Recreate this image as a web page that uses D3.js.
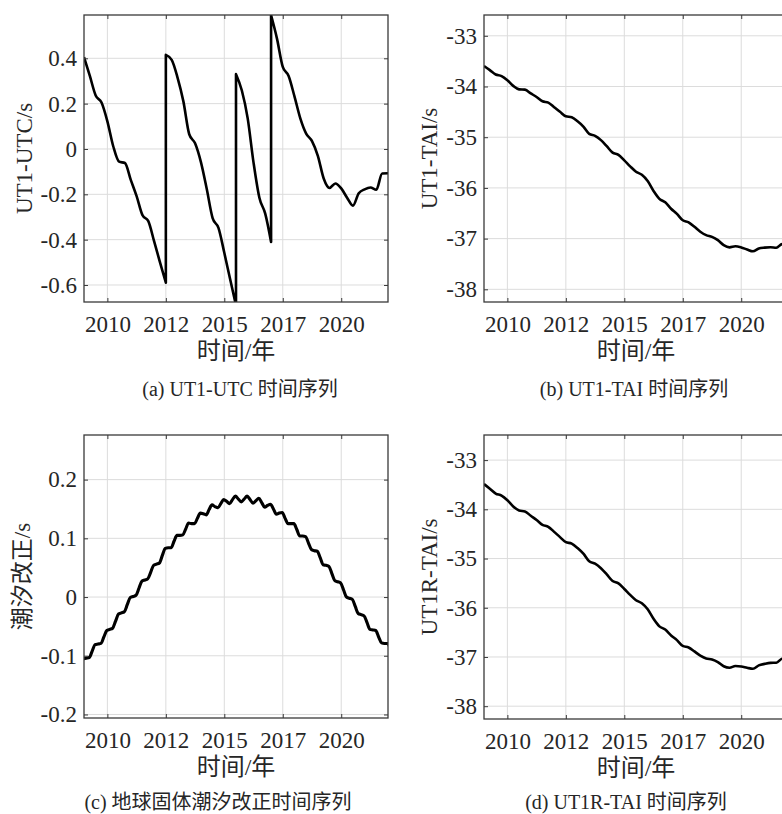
<!DOCTYPE html>
<html lang="zh">
<head>
<meta charset="UTF-8">
<title>UT1 时间序列</title>
<script src="https://d3js.org/d3.v7.min.js"></script>
<style>
  html, body { margin: 0; padding: 0; background: #fff; }
  svg { display: block; }
  text { font-family: "Liberation Serif", "Times New Roman", "Noto Sans CJK SC", serif; fill: #262626; }
  .tick text { font-size: 23px; }
  .grid line { stroke: #dcdcdc; stroke-width: 1px; }
  .frame { fill: none; stroke: #3a3a3a; stroke-width: 1.3px; }
  .axis { color: #3a3a3a; }
  .curve { fill: none; stroke: #000; stroke-width: 2.6px; stroke-linejoin: round; }
  .curve.thick { stroke-width: 3.1px; }
  .xlabel { font-size: 24px; }
  .ylabel { font-size: 23px; }
  .caption { font-size: 20px; }
</style>
</head>
<body>
<svg width="782" height="814"></svg>
<script>
// time axis in decimal years
const xTicks = [2010, 2012.5, 2015, 2017.5, 2020];
const xTickLabels = ["2010", "2012", "2015", "2017", "2020"];
const quarterYears = d3.range(2009, 2022.001, 0.25);
const tideYears = d3.range(2008.975, 2022.11, 0.125);

// UT1-UTC, split at the leap seconds
const leapStarts = [2009, 2012.5, 2015.5, 2017];
const ut1utcSeg1 = [0.405, 0.322, 0.236, 0.205, 0.122, 0.012, -0.056, -0.062, -0.136, -0.208, -0.292, -0.318, -0.408, -0.500, -0.590];
const ut1utcSeg2 = [0.415, 0.393, 0.315, 0.210, 0.065, 0.025, -0.058, -0.177, -0.305, -0.348, -0.458, -0.575, -0.690];
const ut1utcSeg3 = [0.330, 0.258, 0.135, -0.060, -0.215, -0.285, -0.410];
const ut1utcSeg4 = [0.590, 0.488, 0.362, 0.322, 0.232, 0.135, 0.068, 0.035, -0.030, -0.130, -0.172, -0.152, -0.174,
                    -0.215, -0.250, -0.195, -0.178, -0.170, -0.180, -0.108, -0.107];

// UT1-TAI
const ut1tai = [-33.595, -33.678, -33.764, -33.795, -33.878, -33.988, -34.056, -34.062, -34.136, -34.208, -34.292, -34.318, -34.408, -34.500, -34.588,
                -34.607, -34.685, -34.790, -34.935, -34.975, -35.058, -35.177, -35.305, -35.348, -35.458, -35.575, -35.680,
                -35.742, -35.865, -36.060, -36.215, -36.285, -36.410,
                -36.512, -36.638, -36.678, -36.768, -36.865, -36.932, -36.965, -37.030, -37.130, -37.172,
                -37.152, -37.174, -37.215, -37.250, -37.195, -37.178, -37.170, -37.180, -37.108, -37.107];

// solid earth tide correction
const tide = [-0.105, -0.104, -0.103, -0.092, -0.081, -0.080, -0.079, -0.068, -0.057, -0.055, -0.053, -0.041,
              -0.029, -0.027, -0.025, -0.013, -0.001, 0.001, 0.003, 0.015, 0.027, 0.029, 0.031, 0.042,
              0.054, 0.056, 0.058, 0.071, 0.083, 0.084, 0.084, 0.095, 0.105, 0.105, 0.106, 0.116,
              0.126, 0.125, 0.125, 0.134, 0.143, 0.142, 0.140, 0.149, 0.157, 0.154, 0.152, 0.159,
              0.166, 0.163, 0.159, 0.166, 0.172, 0.167, 0.162, 0.167, 0.172, 0.166, 0.160, 0.164,
              0.168, 0.161, 0.153, 0.156, 0.158, 0.150, 0.141, 0.143, 0.144, 0.134, 0.125, 0.125,
              0.125, 0.115, 0.104, 0.104, 0.103, 0.092, 0.081, 0.079, 0.078, 0.067, 0.055, 0.054,
              0.052, 0.040, 0.028, 0.026, 0.024, 0.012, 0.000, -0.002, -0.004, -0.016, -0.028, -0.030,
              -0.032, -0.043, -0.055, -0.056, -0.057, -0.068, -0.078, -0.079, -0.079, -0.088];

// UT1R-TAI
const ut1rtai = [-33.486, -33.581, -33.679, -33.722, -33.817, -33.941, -34.023, -34.043, -34.131, -34.217, -34.315, -34.355, -34.458, -34.565, -34.667,
                 -34.697, -34.786, -34.901, -35.057, -35.105, -35.197, -35.323, -35.457, -35.505, -35.619, -35.739, -35.847,
                 -35.909, -36.032, -36.225, -36.378, -36.443, -36.562,
                 -36.658, -36.776, -36.807, -36.887, -36.973, -37.029, -37.050, -37.102, -37.189, -37.218,
                 -37.184, -37.192, -37.219, -37.240, -37.171, -37.140, -37.120, -37.117, -37.034, -37.022];

const ticksSmall = [-0.6, -0.4, -0.2, 0, 0.2, 0.4];
const ticksSmallLabels = ["-0.6", "-0.4", "-0.2", "0", "0.2", "0.4"];
const ticksTai = [-38, -37, -36, -35, -34, -33];
const ticksTaiLabels = ["-38", "-37", "-36", "-35", "-34", "-33"];
const ticksTide = [-0.2, -0.1, 0, 0.1, 0.2];
const ticksTideLabels = ["-0.2", "-0.1", "0", "0.1", "0.2"];

const svg = d3.select("svg");
const defs = svg.append("defs");
const W = 304;
const x = d3.scaleLinear().domain([2009, 2022]).range([0, W]);

const segs = [ut1utcSeg1, ut1utcSeg2, ut1utcSeg3, ut1utcSeg4]
  .map((vals, i) => vals.map((v, j) => [leapStarts[i] + j * 0.25, v]));

const panels = [
  { id: "a", left: 84, top: 15, bottom: 302, yDomain: [-0.675, 0.591], yTicks: ticksSmall, yTickLabels: ticksSmallLabels,
    series: segs, yLabel: "UT1-UTC/s", yLabelX: 32, caption: "(a) UT1-UTC 时间序列", capX: 240, capY: 396 },
  { id: "b", left: 484, top: 15, bottom: 302, yDomain: [-38.25, -32.59], yTicks: ticksTai, yTickLabels: ticksTaiLabels,
    series: [quarterYears.map((t, i) => [t, ut1tai[i]])], yLabel: "UT1-TAI/s", yLabelX: 437, caption: "(b) UT1-TAI 时间序列", capX: 634, capY: 396 },
  { id: "c", left: 84, top: 435, bottom: 718, yDomain: [-0.206, 0.276], yTicks: ticksTide, yTickLabels: ticksTideLabels, thick: true,
    series: [tideYears.map((t, i) => [t, tide[i]])], yLabel: "潮汐改正/s", yLabelX: 30, caption: "(c)  地球固体潮汐改正时间序列", capX: 218, capY: 809 },
  { id: "d", left: 484, top: 435, bottom: 719, yDomain: [-38.26, -32.49], yTicks: ticksTai, yTickLabels: ticksTaiLabels,
    series: [quarterYears.map((t, i) => [t, ut1rtai[i]])], yLabel: "UT1R-TAI/s", yLabelX: 437, caption: "(d) UT1R-TAI 时间序列", capX: 626, capY: 809 }
];

panels.forEach(p => {
  const h = p.bottom - p.top;
  const y = d3.scaleLinear().domain(p.yDomain).range([h, 0]);
  const g = svg.append("g").attr("transform", `translate(${p.left},${p.top})`);

  defs.append("clipPath").attr("id", "clip-" + p.id)
    .append("rect").attr("width", W).attr("height", h);

  // grid
  const grid = g.append("g").attr("class", "grid");
  grid.selectAll(".gx").data(xTicks).join("line").attr("class", "gx")
    .attr("x1", d => x(d)).attr("x2", d => x(d)).attr("y1", 0).attr("y2", h);
  grid.selectAll(".gy").data(p.yTicks).join("line").attr("class", "gy")
    .attr("x1", 0).attr("x2", W).attr("y1", d => y(d)).attr("y2", d => y(d));

  // curve (segments joined by vertical jumps)
  const line = d3.line().x(d => x(d[0])).y(d => y(d[1])).curve(d3.curveMonotoneX);
  const dStr = p.series.map((s, i) => { const s1 = line(s); return i ? "L" + s1.slice(1) : s1; }).join("");
  g.append("path").attr("class", p.thick ? "curve thick" : "curve")
    .attr("clip-path", `url(#clip-${p.id})`).attr("d", dStr);

  g.append("rect").attr("class", "frame").attr("width", W).attr("height", h);

  // axes, ticks pointing inward
  const ax = g.append("g").attr("class", "axis");
  ax.append("g").attr("transform", `translate(0,${h})`)
    .call(d3.axisBottom(x).tickValues(xTicks).tickFormat((d, i) => xTickLabels[i]).tickSizeInner(-4).tickSizeOuter(0).tickPadding(14));
  ax.append("g")
    .call(d3.axisTop(x).tickValues(xTicks).tickFormat("").tickSizeInner(-4).tickSizeOuter(0));
  ax.append("g")
    .call(d3.axisLeft(y).tickValues(p.yTicks).tickFormat((d, i) => p.yTickLabels[i]).tickSizeInner(-4).tickSizeOuter(0).tickPadding(7));
  ax.append("g").attr("transform", `translate(${W},0)`)
    .call(d3.axisRight(y).tickValues(p.yTicks).tickFormat("").tickSizeInner(-4).tickSizeOuter(0));
  ax.selectAll(".domain").remove();
  ax.selectAll("g").attr("font-size", null).attr("font-family", null);

  svg.append("text").attr("class", "xlabel").attr("text-anchor", "middle")
    .attr("x", p.left + W / 2).attr("y", p.bottom + 57).text("时间/年");
  svg.append("text").attr("class", "ylabel").attr("text-anchor", "middle")
    .attr("transform", `translate(${p.yLabelX},${(p.top + p.bottom) / 2}) rotate(-90)`).text(p.yLabel);
  svg.append("text").attr("class", "caption").attr("text-anchor", "middle")
    .attr("x", p.capX).attr("y", p.capY).text(p.caption);
});
</script>
</body>
</html>
